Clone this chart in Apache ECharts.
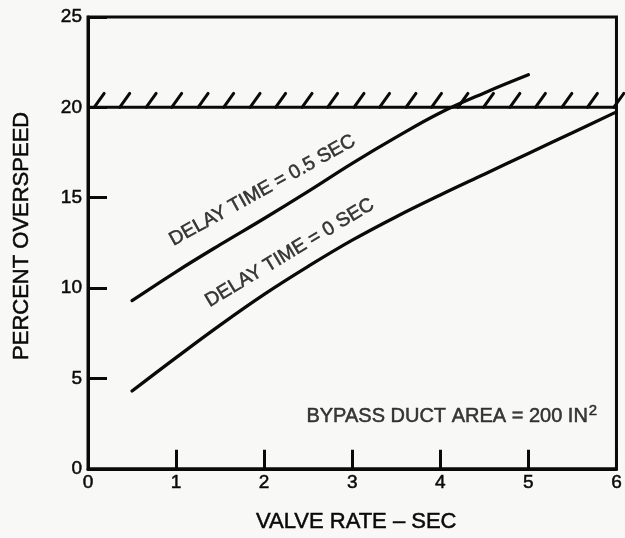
<!DOCTYPE html>
<html>
<head>
<meta charset="utf-8">
<script src="https://cdn.jsdelivr.net/npm/echarts@6/dist/echarts.min.js"></script>
<style>
  html, body { margin: 0; padding: 0; background: #f8f8f6; }
  #chart { width: 625px; height: 538px; }
</style>
</head>
<body>
<div id="chart"></div>
<script>
// Valve rate (s) sample points for both curves
const valveRate = [0.5, 1, 1.5, 2, 2.5, 3, 3.5, 4, 4.5, 5, 5.5, 6];
// Percent overspeed, delay time = 0.5 s (curve ends at 5 s)
const overspeedDelay05 = [9.3, 10.9, 12.4, 13.85, 15.35, 16.9, 18.35, 19.7, 20.8, 21.8];
// Percent overspeed, delay time = 0 s
const overspeedDelay0 = [4.3, 6.15, 7.95, 9.65, 11.2, 12.65, 13.95, 15.15, 16.3, 17.45, 18.6, 19.75];
// Overspeed limit and hatch positions along it
const limitValue = 20;
const limitRange = [0, 6];
const hatchX = [0.07, 0.36, 0.66, 0.95, 1.25, 1.54, 1.84, 2.13, 2.43, 2.72, 3.02,
                3.31, 3.61, 3.90, 4.20, 4.49, 4.79, 5.08, 5.38, 5.67, 5.97];
// Axis ticks
const xTicks = [0, 1, 2, 3, 4, 5, 6];
const yTicks = [0, 5, 10, 15, 20, 25];
// Annotations: [x, y, text, rotation]
const curveLabels = [
  [1.98, 15.4, 'DELAY TIME = 0.5 SEC', 29],
  [2.29, 11.95, 'DELAY TIME = 0 SEC', 31]
];
const areaNote = [2.48, 2.9, 'BYPASS DUCT AREA = 200 IN', '2'];

const ink = '#0a0a0a';
const font = '"Liberation Sans", Arial, Helvetica, sans-serif';
// slight outline so the type reads as heavy as printed lettering
const heavy = { textBorderColor: ink, textBorderWidth: 0.5 };

const pairs = (xs, ys) => ys.map((y, i) => [xs[i], y]);

const chart = echarts.init(document.getElementById('chart'), null, { renderer: 'canvas' });

chart.setOption({
  backgroundColor: '#f8f8f6',
  animation: false,
  textStyle: { fontFamily: font, color: ink },
  grid: {
    left: 88, right: 3, top: 17, bottom: 69,
    show: true, borderColor: ink, borderWidth: 3, backgroundColor: 'transparent'
  },
  xAxis: {
    type: 'value',
    min: xTicks[0], max: xTicks[xTicks.length - 1], interval: 1,
    name: 'VALVE RATE \u2013 SEC',
    nameLocation: 'middle', nameGap: 42,
    nameTextStyle: Object.assign({ fontSize: 22, color: ink, fontFamily: font, padding: [0, 0, 0, 8] }, heavy),
    axisLine: { show: true, lineStyle: { color: ink, width: 3 } },
    axisTick: { show: true, inside: true, length: 19, lineStyle: { color: ink, width: 3 } },
    axisLabel: Object.assign({ fontSize: 19, color: ink, margin: 5, fontFamily: font }, heavy),
    splitLine: { show: false }
  },
  yAxis: {
    type: 'value',
    min: yTicks[0], max: yTicks[yTicks.length - 1], interval: 5,
    name: 'PERCENT OVERSPEED',
    nameLocation: 'middle', nameGap: 55,
    nameTextStyle: Object.assign({ fontSize: 22, color: ink, fontFamily: font, padding: [0, 0, 0, 14] }, heavy),
    axisLine: { show: true, lineStyle: { color: ink, width: 3 } },
    axisTick: { show: true, inside: true, length: 19, lineStyle: { color: ink, width: 3 } },
    axisLabel: Object.assign({ fontSize: 19, color: ink, margin: 6, fontFamily: font }, heavy),
    splitLine: { show: false }
  },
  series: [
    {
      name: 'limit',
      type: 'line',
      data: [[limitRange[0], limitValue], [limitRange[1], limitValue]],
      symbol: 'none',
      lineStyle: { color: ink, width: 3 },
      z: 3
    },
    {
      name: 'hatch',
      type: 'custom',
      data: hatchX.map(x => [x, limitValue]),
      renderItem: function (params, api) {
        const p = api.coord([api.value(0), api.value(1)]);
        return {
          type: 'line',
          shape: { x1: p[0], y1: p[1], x2: p[0] + 10, y2: p[1] - 14 },
          style: { stroke: ink, lineWidth: 3, lineCap: 'round' }
        };
      },
      clip: false,
      z: 3
    },
    {
      name: 'DELAY TIME = 0.5 SEC',
      type: 'line',
      data: pairs(valveRate, overspeedDelay05),
      symbol: 'none',
      smooth: 0.4,
      lineStyle: { color: ink, width: 3.3, cap: 'round' },
      z: 4
    },
    {
      name: 'DELAY TIME = 0 SEC',
      type: 'line',
      data: pairs(valveRate, overspeedDelay0),
      symbol: 'none',
      smooth: 0.4,
      lineStyle: { color: ink, width: 3.3, cap: 'round' },
      z: 4
    },
    {
      name: 'labels',
      type: 'scatter',
      symbolSize: 0,
      silent: true,
      data: curveLabels.map(d => ({
        value: [d[0], d[1]],
        label: Object.assign({
          show: true, position: 'inside', formatter: d[2], rotate: d[3],
          fontSize: 19.5, color: ink, fontFamily: font
        }, heavy)
      })).concat([{
        value: [areaNote[0], areaNote[1]],
        label: {
          show: true, position: 'right', distance: 0,
          formatter: '{m|' + areaNote[2] + '}{s|' + areaNote[3] + '}',
          rich: {
            m: Object.assign({ fontSize: 20, color: ink, fontFamily: font }, heavy),
            s: Object.assign({ fontSize: 15, color: ink, fontFamily: font, padding: [0, 0, 10, 1] }, heavy)
          }
        }
      }]),
      z: 5
    }
  ]
});
</script>
</body>
</html>
